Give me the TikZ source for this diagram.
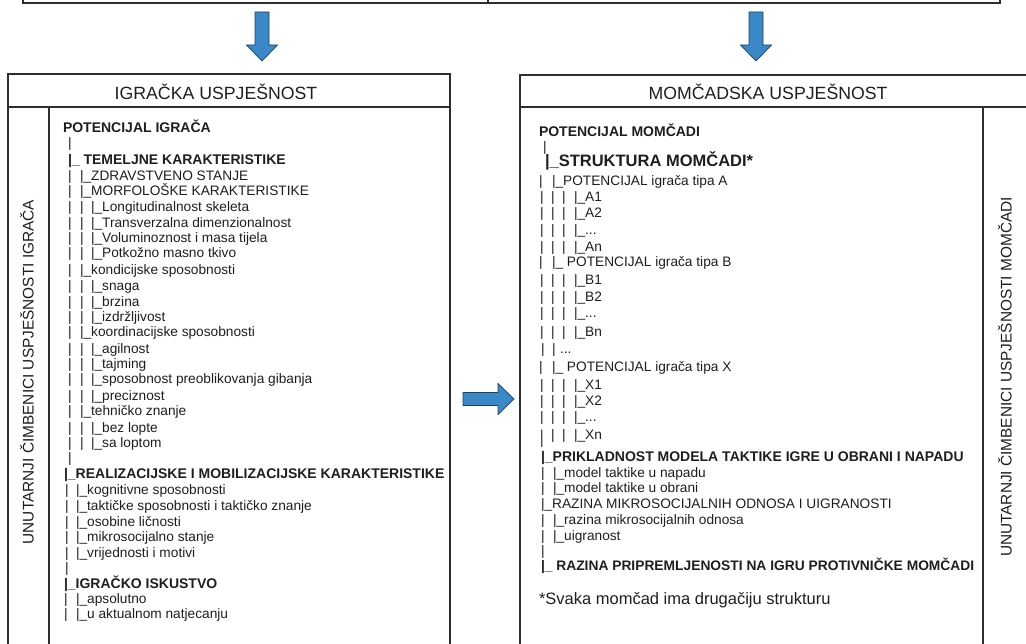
\documentclass[tikz,border=0pt]{standalone}
\usepackage{graphicx}
\usepackage{fontspec}
\setmainfont{Liberation Sans}
\definecolor{boxc}{HTML}{2E2E2E}
\definecolor{txt}{HTML}{1E1E1E}
\definecolor{arrowfill}{HTML}{3A88C8}
\definecolor{arrowline}{HTML}{23405E}
\newcommand\pp[1]{\makebox[#1pt][l]{|}}
\newcommand\ppl[1]{\makebox[#1pt][l]{\raisebox{-4.5pt}{\scalebox{1}[1.35]{|}}}}
\begin{document}
\begin{tikzpicture}[x=1pt,y=-1pt,
  box/.style={draw=boxc, line width=1.3pt},
  ln/.style={anchor=base west, inner sep=0pt, outer sep=0pt, text=txt, yshift=-5pt, font=\fontsize{13.7}{16}\selectfont},
  lbold/.style={ln, font=\fontsize{14}{16}\selectfont\bfseries},
  ttl/.style={anchor=base, inner sep=0pt, text=txt, font=\fontsize{17.7}{20}\selectfont},
  vert/.style={rotate=90, inner sep=0pt, text=txt, font=\fontsize{15.4}{18}\selectfont},
  barrow/.style={fill=arrowfill, draw=arrowline, line width=0.7pt, line join=miter}]
\useasboundingbox (0,0) rectangle (1026,644);
\clip (0,0) rectangle (1026,644);
% top box (cut off)
\draw[box] (23,-10) -- (23,3) -- (1000,3) -- (1000,-10);
\draw[box] (488,-10) -- (488,3);
% block arrows
\filldraw[barrow] (255,12) -- (269,12) -- (269,45) -- (277.5,45) -- (262,61) -- (246.5,45) -- (255,45) -- cycle;
\filldraw[barrow] (749,12) -- (763,12) -- (763,45) -- (771.5,45) -- (756,61) -- (740.5,45) -- (749,45) -- cycle;
\filldraw[barrow] (463,392.5) -- (498,392.5) -- (498,383.5) -- (514,399) -- (498,414.5) -- (498,405.5) -- (463,405.5) -- cycle;
% left box
\draw[box] (8,660) -- (8,74) -- (450,74) -- (450,660);
\draw[box] (8,107) -- (450,107);
\draw[box] (49,107) -- (49,660);
% right box
\draw[box] (520,660) -- (520,75) -- (1040,75);
\draw[box] (520,107) -- (1040,107);
\draw[box] (983,107) -- (983,660);
% titles
\node[ttl] (tl) at (216,100) {IGRAČKA USPJEŠNOST};
\node[ttl] (tr) at (768,100) {MOMČADSKA USPJEŠNOST};
\node[vert] (vl) at (27,372) {UNUTARNJI ČIMBENICI USPJEŠNOSTI IGRAČA};
\node[vert] (vr) at (1005,377) {UNUTARNJI ČIMBENICI USPJEŠNOSTI MOMČADI};
% left tree
\node[lbold] (L1) at (63,128) {POTENCIJAL IGRAČA};
\node[ln] (L2) at (68,143) {|};
\node[lbold] (L3) at (68,160) {|\_ TEMELJNE KARAKTERISTIKE};
\node[ln] (L4) at (68,176) {\pp{12}|\_ZDRAVSTVENO STANJE};
\node[ln] (L5) at (68,191) {\pp{12}|\_MORFOLOŠKE KARAKTERISTIKE};
\node[ln] (L6) at (68,207) {\pp{12}\pp{11}|\_Longitudinalnost skeleta};
\node[ln] (L7) at (68,223) {\pp{12}\pp{11}|\_Transverzalna dimenzionalnost};
\node[ln] (L8) at (68,238) {\pp{12}\pp{11}|\_Voluminoznost i masa tijela};
\node[ln] (L9) at (68,253) {\pp{12}\pp{11}|\_Potkožno masno tkivo};
\node[ln] (L10) at (68,270) {\pp{12}|\_kondicijske sposobnosti};
\node[ln] (L11) at (68,286) {\pp{12}\pp{11}|\_snaga};
\node[ln] (L12) at (68,302) {\pp{12}\pp{11}|\_brzina};
\node[ln] (L13) at (68,317) {\pp{12}\pp{11}|\_izdržljivost};
\node[ln] (L14) at (68,332) {\pp{12}|\_koordinacijske sposobnosti};
\node[ln] (L15) at (68,349) {\pp{12}\pp{11}|\_agilnost};
\node[ln] (L16) at (68,364) {\pp{12}\pp{11}|\_tajming};
\node[ln] (L17) at (68,379) {\pp{12}\pp{11}|\_sposobnost preoblikovanja gibanja};
\node[ln] (L18) at (68,396) {\pp{12}\pp{11}|\_preciznost};
\node[ln] (L19) at (68,411) {\pp{12}|\_tehničko znanje};
\node[ln] (L20) at (68,427) {\pp{12}\pp{11}|\_bez lopte};
\node[ln] (L21) at (68,442) {\pp{12}\pp{11}|\_sa loptom};
\node[ln] (L22) at (68,457) {|};
\node[lbold] (L23) at (64,473) {|\_REALIZACIJSKE I MOBILIZACIJSKE KARAKTERISTIKE};
\node[ln] (L24) at (65,489) {\pp{11}|\_kognitivne sposobnosti};
\node[ln] (L25) at (65,505) {\pp{11}|\_taktičke sposobnosti i taktičko znanje};
\node[ln] (L26) at (65,521) {\pp{11}|\_osobine ličnosti};
\node[ln] (L27) at (65,536) {\pp{11}|\_mikrosocijalno stanje};
\node[ln] (L28) at (65,552) {\pp{11}|\_vrijednosti i motivi};
\node[ln] (L29) at (65,567) {|};
\node[lbold] (L30) at (64,583) {|\_IGRAČKO ISKUSTVO};
\node[ln] (L31) at (64,598) {\pp{12}|\_apsolutno};
\node[ln] (L32) at (64,613) {\pp{12}|\_u aktualnom natjecanju};
% right tree
\node[lbold] (R1) at (539,132) {POTENCIJAL MOMČADI};
\node[ln] (R2) at (543,147) {|};
\node[lbold, font=\fontsize{16.5}{18}\selectfont\bfseries] (R3) at (545,162) {|\_STRUKTURA MOMČADI*};
\node[ln] (R4) at (539,181) {\pp{13}|\_POTENCIJAL igrača tipa A};
\node[ln] (R5) at (540,197) {\pp{11}\pp{11}\pp{12}|\_A1};
\node[ln] (R6) at (540,213) {\pp{11}\pp{11}\pp{12}|\_A2};
\node[ln] (R7) at (540,230) {\pp{11}\pp{11}\pp{12}|\_...};
\node[ln] (R8) at (540,247) {\pp{11}\pp{11}\pp{12}|\_An};
\node[ln] (R9) at (539,262) {\pp{13}|\_ POTENCIJAL igrača tipa B};
\node[ln] (R10) at (540,280) {\pp{11}\pp{11}\pp{12}|\_B1};
\node[ln] (R11) at (540,297) {\pp{11}\pp{11}\pp{12}|\_B2};
\node[ln] (R12) at (540,313) {\pp{11}\pp{11}\pp{12}|\_...};
\node[ln] (R13) at (540,332) {\pp{11}\pp{11}\pp{12}|\_Bn};
\node[ln] (R14) at (541,349) {\pp{11}\pp{8}...};
\node[ln] (R15) at (539,367) {\pp{13}|\_ POTENCIJAL igrača tipa X};
\node[ln] (R16) at (540,385) {\pp{11}\pp{11}\pp{12}|\_X1};
\node[ln] (R17) at (540,401) {\pp{11}\pp{11}\pp{12}|\_X2};
\node[ln] (R18) at (540,416) {\pp{11}\pp{11}\pp{12}|\_...};
\node[ln] (R19) at (540,434) {\ppl{11}\pp{11}\pp{12}|\_Xn};
\node[lbold] (R21) at (541,456) {|\_PRIKLADNOST MODELA TAKTIKE IGRE U OBRANI I NAPADU};
\node[ln] (R22) at (541,472) {\pp{12}|\_model taktike u napadu};
\node[ln] (R23) at (541,487) {\pp{12}|\_model taktike u obrani};
\node[ln] (R24) at (541,503) {|\_RAZINA MIKROSOCIJALNIH ODNOSA I UIGRANOSTI};
\node[ln] (R25) at (541,519) {\pp{12}|\_razina mikrosocijalnih odnosa};
\node[ln] (R26) at (541,535) {\pp{12}|\_uigranost};
\node[ln] (R27) at (541,550) {|};
\node[lbold, font=\fontsize{13.8}{16}\selectfont\bfseries] (R28) at (541,565) {|\_ RAZINA PRIPREMLJENOSTI NA IGRU PROTIVNIČKE MOMČADI};
\node[ln, font=\fontsize{16.5}{18}\selectfont, yshift=-1pt] (R29) at (539,598) {*Svaka momčad ima drugačiju strukturu};
\end{tikzpicture}
\end{document}
